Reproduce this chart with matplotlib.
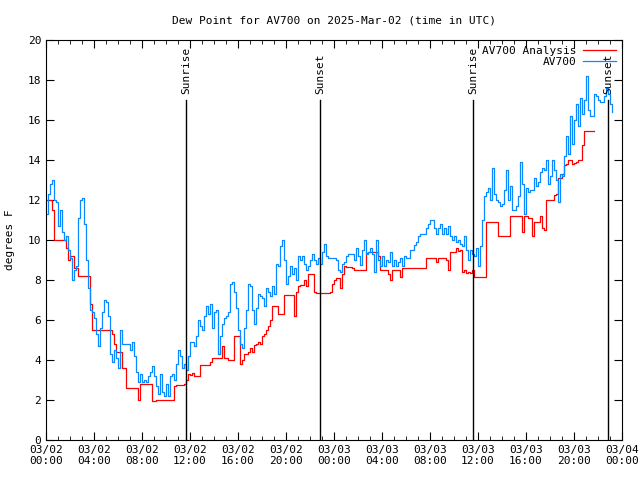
import matplotlib
matplotlib.use('Agg')
import matplotlib.pyplot as plt
import matplotlib.dates as mdates
import pandas as pd

# AV700 observed dew point, every 10 minutes from 2025-03-02 00:00 UTC
av700 = [
    11.3, 12.3, 12.8, 13.0, 12.0, 11.9,
    10.7, 11.5, 10.4, 10.0, 10.2, 9.5,
    9.1, 8.0, 8.5, 8.7, 11.1, 12.0,
    12.1, 10.8, 9.0, 7.6, 6.5, 6.4,
    6.1, 5.3, 4.7, 5.6, 6.4, 7.0,
    6.9, 6.2, 4.3, 3.9, 4.5, 4.1,
    3.6, 5.5, 4.8, 4.8, 4.8, 4.8,
    4.5, 4.9, 4.2, 3.4, 2.9, 3.3,
    2.9, 3.0, 2.9, 3.2, 3.4, 3.7,
    3.2, 2.7, 2.3, 3.3, 2.4, 2.2,
    2.8, 2.2, 3.2, 3.3, 3.0, 3.8,
    4.5, 4.2, 3.6, 3.8, 3.5, 4.2,
    4.9, 4.9, 4.7, 5.2, 6.0, 5.7,
    5.5, 6.2, 6.7, 6.3, 6.8, 5.6,
    6.4, 6.5, 4.3, 5.2, 5.8, 6.1,
    6.2, 6.4, 7.8, 7.9, 7.4, 6.6,
    5.5, 4.8, 4.6, 5.6, 6.5, 7.8,
    7.7, 6.5, 5.8, 6.6, 7.3, 7.2,
    7.1, 6.7, 7.6, 7.4, 7.2, 7.7,
    7.3, 8.8, 8.7, 9.7, 10.0, 9.0,
    7.8, 8.2, 8.7, 8.3, 8.6, 8.0,
    9.2, 9.0, 9.2, 8.8, 8.5, 8.7,
    9.0, 9.3, 9.0, 8.8, 9.1, 8.8,
    9.4, 9.8, 9.2, 9.1, 9.1, 9.1,
    9.1, 9.0, 8.5, 8.4, 8.8, 8.9,
    9.2, 9.3, 9.3, 9.3, 9.0, 9.6,
    9.2, 8.75, 9.5, 10.0, 9.3, 9.4,
    9.6, 9.3, 8.4, 10.0, 9.0, 8.7,
    9.2, 8.7, 9.0, 8.9, 9.4, 8.7,
    9.0, 8.7, 8.9, 9.1, 8.7, 9.2,
    9.1, 9.1, 9.5, 9.5, 9.75, 9.9,
    10.2, 10.3, 10.3, 10.3, 10.6, 10.8,
    11.0, 11.0, 10.6, 10.3, 10.6, 10.8,
    10.3, 10.6, 10.3, 10.7, 10.2, 10.0,
    10.2, 9.9, 10.0, 9.8, 9.7, 10.2,
    9.5, 9.0, 9.5, 9.3, 9.2, 9.6,
    8.7, 9.7, 11.0, 12.2, 12.4, 12.6,
    12.0, 13.6, 12.3, 12.0, 11.9, 11.7,
    11.8, 12.5, 13.5, 12.0, 12.7, 11.5,
    11.5, 11.7, 12.2, 13.9, 12.8, 11.3,
    12.6, 12.4, 12.5, 12.5, 13.1, 12.7,
    12.9, 13.4, 13.6, 13.5, 14.0, 12.8,
    13.2, 14.0, 13.5, 13.0, 11.9, 13.3,
    13.2, 14.2, 15.2, 14.3, 16.2, 14.8,
    16.0, 16.8, 15.7, 17.1, 16.3, 17.0,
    18.2, 16.5, 16.2, 16.2, 17.3, 17.2,
    17.0, 16.9, 16.9, 17.2, 17.6, 17.3,
    16.8, 16.4,
]

# AV700 analysis, same 10-minute steps
analysis = [
    12.0, 12.0, 12.0, 11.5, 10.0, 10.0,
    10.0, 10.0, 10.0, 10.0, 9.6, 9.0,
    9.2, 9.2, 8.6, 8.6, 8.2, 8.2,
    8.2, 8.2, 8.2, 8.2, 6.8, 5.5,
    5.5, 5.5, 5.5, 5.5, 5.5, 5.5,
    5.5, 5.5, 5.5, 5.3, 4.8, 4.4,
    4.4, 4.4, 3.6, 3.6, 2.6, 2.6,
    2.6, 2.6, 2.6, 2.6, 2.0, 2.8,
    2.8, 2.8, 2.8, 2.8, 2.8, 1.95,
    1.95, 2.0, 2.0, 2.0, 2.0, 2.0,
    2.0, 2.0, 2.0, 2.0, 2.7, 2.75,
    2.75, 2.75, 2.75, 2.8, 3.0, 3.3,
    3.25, 3.35, 3.2, 3.2, 3.2, 3.75,
    3.75, 3.75, 3.75, 3.75, 3.9, 4.1,
    4.1, 4.1, 4.1, 4.1, 4.7, 4.1,
    4.1, 4.0, 4.0, 4.0, 5.2, 5.2,
    5.2, 3.8, 4.0, 4.3, 4.3, 4.4,
    4.6, 4.4, 4.75, 4.8, 4.9, 4.8,
    5.2, 5.3, 5.5, 5.7, 6.0, 6.7,
    6.7, 6.7, 6.3, 6.3, 6.3, 7.25,
    7.25, 7.25, 7.25, 7.25, 6.2, 7.4,
    7.7, 7.75, 7.75, 8.0, 7.7, 8.3,
    8.3, 8.3, 7.4, 7.33, 7.33, 7.33,
    7.33, 7.33, 7.33, 7.33, 7.4, 7.8,
    8.0, 8.1, 8.1, 7.6, 8.3, 8.7,
    8.67, 8.67, 8.67, 8.6, 8.5, 8.5,
    8.5, 8.5, 8.5, 8.5, 9.35, 9.4,
    9.4, 9.4, 9.4, 9.4, 9.2, 8.5,
    8.5, 8.5, 8.5, 8.3, 8.0, 8.5,
    8.5, 8.5, 8.5, 8.15, 8.58, 8.58,
    8.58, 8.58, 8.58, 8.58, 8.58, 8.58,
    8.58, 8.58, 8.58, 8.58, 9.1, 9.1,
    9.1, 9.1, 9.1, 8.9, 9.1, 9.1,
    9.1, 9.1, 9.0, 8.5, 9.4, 9.4,
    9.4, 9.6, 9.45, 9.5, 8.4, 8.5,
    8.33, 8.4, 8.33, 8.5, 8.17, 8.17,
    8.17, 8.17, 8.17, 8.17, 10.9, 10.9,
    10.9, 10.9, 10.9, 10.9, 10.2, 10.2,
    10.2, 10.2, 10.2, 10.2, 11.2, 11.2,
    11.2, 11.2, 11.2, 11.2, 10.4, 11.2,
    11.2, 11.1, 11.1, 10.2, 10.9, 10.9,
    10.9, 11.2, 10.6, 10.5, 12.0, 12.0,
    12.0, 12.0, 12.25, 12.3, 13.1, 13.1,
    13.3, 13.75, 13.8, 14.0, 14.0, 13.8,
    13.85, 13.9, 14.0, 14.0, 14.75, 15.45,
    15.45, 15.45, 15.45, 15.45, 15.45,
]

sun_times = ['2025-03-02 11:40', '2025-03-02 22:50', '2025-03-03 11:35', '2025-03-03 22:50']
sun_labels = ['Sunrise', 'Sunset', 'Sunrise', 'Sunset']

t_obs = pd.date_range('2025-03-02 00:00', periods=len(av700), freq='10min')
t_ana = pd.date_range('2025-03-02 00:00', periods=len(analysis), freq='10min')

plt.rcParams['font.family'] = 'DejaVu Sans Mono'
plt.rcParams['font.size'] = 8

fig = plt.figure(figsize=(6.4, 4.8), dpi=100)
ax = fig.add_axes([46 / 640, 40 / 480, 576 / 640, 400 / 480])

ax.plot(t_ana, analysis, color='#ff0000', lw=0.9, drawstyle='steps-post', label='AV700 Analysis')
ax.plot(t_obs, av700, color='#0a88ff', lw=0.9, drawstyle='steps-post', label='AV700')

# sunrise / sunset markers
for st, lab in zip(sun_times, sun_labels):
    ts = pd.Timestamp(st)
    ax.plot([ts, ts], [0, 17], color='black', lw=1.0)
    ax.text(ts, 17.3, lab, rotation=90, ha='center', va='bottom', fontsize=8)

ax.set_xlim(pd.Timestamp('2025-03-02 00:00'), pd.Timestamp('2025-03-04 00:00'))
ax.set_ylim(0, 20)
ax.set_yticks(range(0, 21, 2))
ax.xaxis.set_major_locator(mdates.HourLocator(byhour=range(0, 24, 4)))
ax.xaxis.set_minor_locator(mdates.HourLocator())
ax.xaxis.set_major_formatter(mdates.DateFormatter('%m/%d\n%H:%M'))
ax.tick_params(which='both', direction='in', top=True, right=True, labelsize=8)
ax.tick_params(which='major', length=6)
ax.tick_params(which='minor', length=3)

ax.set_title('Dew Point for AV700 on 2025-Mar-02 (time in UTC)', fontsize=8, pad=12)
ax.set_ylabel('degrees F', fontsize=8, labelpad=9)

ax.legend(loc='upper right', frameon=False, markerfirst=False, fontsize=8,
          handlelength=3, borderaxespad=0.1, labelspacing=0.15, handletextpad=0.6)

fig.savefig('out.png', dpi=100)
